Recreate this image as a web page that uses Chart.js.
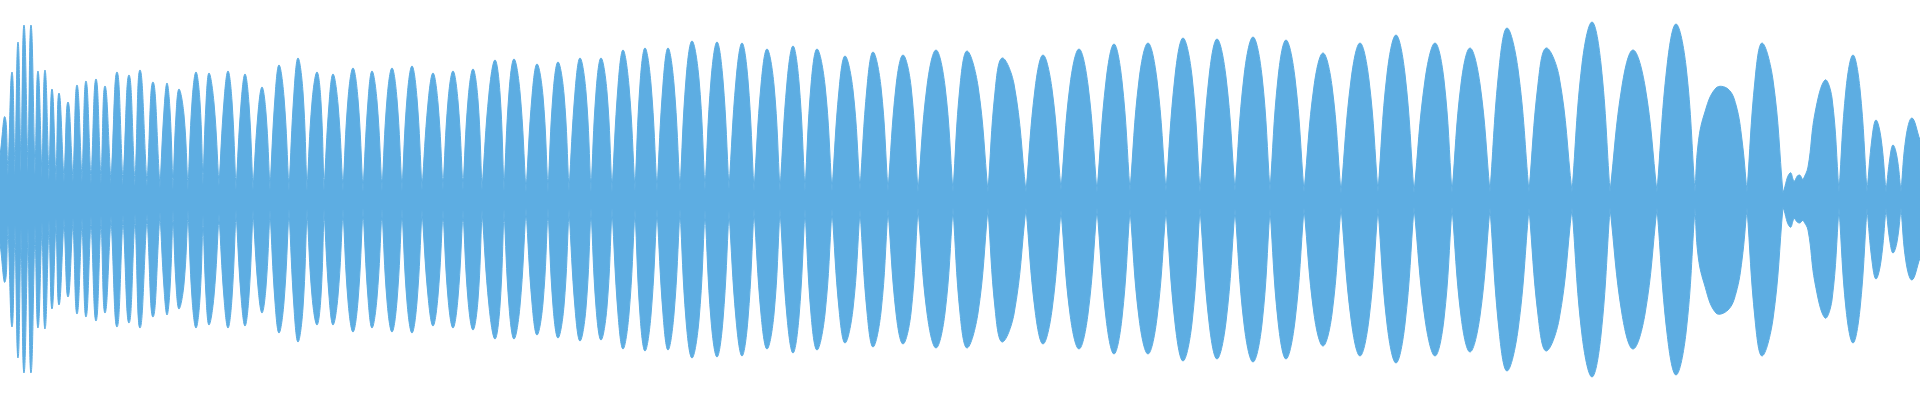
<!DOCTYPE html>
<html>
<head>
<meta charset="utf-8">
<script src="https://cdn.jsdelivr.net/npm/chart.js@4.4.1/dist/chart.umd.min.js"></script>
<style>
  html, body { margin: 0; padding: 0; background: #ffffff; }
  #wrap { width: 1920px; height: 400px; }
</style>
</head>
<body>
<div id="wrap"><canvas id="wave" width="1920" height="400"></canvas></div>
<script>
// envelope of the waveform, amplitude in % of full scale
const envX = [
  0, 5, 8, 12, 15, 18, 21, 24, 28, 31, 35, 38, 42, 45, 49, 52, 56, 59, 64,
  68, 73, 77, 82, 86, 91, 96, 101, 105, 111, 117, 123, 129, 135, 140, 147, 153, 160,
  164, 167, 170, 173,  176, 179, 184, 188,  192, 196, 200, 203,  206, 209, 214, 219,
  224, 228, 232, 236,  241, 245, 249, 253,  258, 262, 266, 270,  275, 279, 284, 289,
  294, 298, 303, 307,  312, 317, 321, 324,  329, 333, 338, 343,  348, 353, 358, 363,
  368, 372, 377, 382,  387, 392, 397, 402,  407, 412, 417, 422,  428, 433, 438, 443,
  448, 453, 458, 463,  468, 473, 478, 482,  489, 495, 500, 504,  509, 514, 520, 526,
  532, 537, 543, 548,  553, 558, 564, 569,  575, 580, 586, 591,  596, 601, 607, 612,
  618, 623, 629, 635,  640, 645, 651, 657,  663, 668, 674, 680,  686, 692, 699, 705,
  711, 717, 723, 729,  736, 742, 748, 754,  761, 767, 774, 780,  787, 793, 799, 805,
  811, 817, 825, 832,  839, 845, 853, 860,  867, 873, 881, 888,  896, 903, 911, 918,
  927, 936, 945, 953,  960, 967, 978, 988,  995, 1002, 1014, 1026,  1035, 1043, 1052, 1061,
  1070, 1079, 1088, 1097,  1106, 1114, 1122, 1130,  1139, 1148, 1157, 1166,  1175, 1183, 1192, 1200,
  1209, 1217, 1226, 1235,  1244, 1253, 1262, 1270,  1278, 1286, 1295, 1304,  1314, 1323, 1332, 1341,
  1351, 1360, 1369, 1378,  1387, 1396, 1405, 1414,  1425, 1435, 1444, 1452,  1461, 1470, 1480, 1490,
  1499, 1507, 1518, 1529,  1538, 1546, 1559, 1572,  1582, 1592, 1601, 1610,  1622, 1633, 1645, 1657,
  1667, 1676, 1686, 1695,
  1698, 1704, 1716, 1728, 1736, 1742, 1747,
  1755, 1762, 1773, 1783,  1790, 1794,  1799, 1803,
  1808, 1815, 1825, 1832, 1839,
  1846, 1853, 1860, 1867,  1872, 1876, 1881, 1886,  1890, 1893, 1897, 1901,  1906, 1912, 1920
];
const envHigh = [
  22, 41.5, 12.5, 64, 12.5, 79, 14, 87.5, 14, 87.5, 12.5, 64.5, 11, 65, 10, 55.5, 9, 53.5, 9,
  49, 9, 57.5, 9, 59.5, 8, 60.5, 8, 57, 8, 64, 7.5, 62.5, 7, 65, 7, 59, 6,
  45, 58.5, 45, 5,  42.5, 55.5, 42.5, 5,  49, 64, 49, 7.5,  48.5, 63.5, 48.5, 7,
  49.5, 64.5, 49.5, 5,  48, 63, 48, 5,  43.5, 56.5, 43.5, 5,  51.5, 67.5, 51.5, 4.5,
  54, 71, 54, 4.5,  49, 64, 49, 4.5,  48, 63, 48, 4.5,  50.5, 66, 50.5, 4,
  49.5, 64.5, 49.5, 4.5,  50.5, 66, 50.5, 4.5,  51, 67, 51, 5,  48.5, 63.5, 48.5, 5,
  49.5, 64.5, 49.5, 5,  50, 65.5, 50, 5,  53.5, 70, 53.5, 4.5,  54, 70.5, 54, 4,
  52, 68, 52, 4,  53, 69, 53, 4.5,  54, 71, 54, 4,  54, 71, 54, 4,
  57, 75, 57, 4.5,  58, 76, 58, 4.5,  58, 76, 58, 4.5,  60.5, 79.5, 60.5, 5,
  60, 79, 60, 5.5,  60, 78.5, 60, 4.5,  57.5, 75.5, 57.5, 4.5,  59, 77, 59, 4.5,
  57.5, 75.5, 57.5, 4.5,  55, 72, 55, 5,  56.5, 74, 56.5, 4.5,  57, 72.5, 57, 4,
  57, 75, 57, 4,  57, 74.5, 57, 4,  54, 71, 58, 4,  55.5, 72.5, 55.5, 5,
  57.5, 75.5, 57.5, 4,  59.5, 78, 59.5, 4.5,  60, 78.5, 60, 4.5,  62, 81, 62, 4,
  61.5, 80.5, 61.5, 4.5,  62, 81.5, 62, 4.5,  61, 80, 61, 4,  57, 73.5, 57, 3.5,
  60, 78.5, 60, 4,  63, 82.5, 63, 3.5,  60, 78.5, 60, 3.5,  58, 76, 58, 4,
  65.5, 86, 65.5, 4,  58, 76, 62, 4,  68, 89, 68, 4,  57, 75, 57, 4,
  67, 88, 67, 4,
  27.5, 42.5, 56, 55.5, 47.5, 30, 4,
  60, 78.5, 60, 3.5,  13.5, 9,  12.5, 10,
  16.5, 43.5, 60, 51, 4,
  55.5, 72.5, 55.5, 4,  31, 40, 31, 4,  21.5, 27.5, 21.5, 4,  31.5, 41, 30
];
const envLow = [
  21.5, 41, 12.5, 63.5, 12.5, 79, 14, 86.5, 14, 86.5, 12.5, 64, 11, 64.5, 10, 54.5, 9, 52.5, 9,
  48.5, 9, 57, 9, 58.5, 8, 60.5, 8, 56.5, 8, 63.5, 7.5, 61.5, 7, 64, 7, 58.5, 6,
  44, 57.5, 44.5, 5,  42, 54.5, 42, 5,  49, 64, 49, 7.5,  48, 62.5, 48, 7,
  49, 64, 49, 5,  48, 63, 48, 5,  43.5, 56.5, 43.5, 5,  51, 66.5, 51, 4.5,
  54, 71, 54, 4.5,  48, 62.5, 48, 4.5,  48, 62.5, 48, 4.5,  50.5, 66, 50.5, 4,
  49, 64, 49, 4.5,  50.5, 66, 50.5, 4.5,  51, 66.5, 51, 5,  48, 63, 48, 5,
  49, 64, 49, 5,  50, 65, 50, 5,  53, 69.5, 53, 4.5,  53, 69.5, 53, 4,
  51.5, 67.5, 51.5, 4,  53, 69, 53, 4.5,  54, 70.5, 54, 4,  53.5, 70, 53.5, 4,
  57, 74.5, 57, 4.5,  57.5, 75.5, 57.5, 4.5,  57, 75, 57, 4.5,  60, 79, 60, 5,
  60, 78.5, 60, 5.5,  59.5, 78, 59.5, 4.5,  57, 74.5, 57, 4.5,  58.5, 76.5, 58.5, 4.5,
  57, 75, 57, 4.5,  54.5, 71.5, 54.5, 5,  56, 73.5, 56, 4.5,  56.5, 72, 56.5, 4,
  56.5, 74, 56.5, 4,  56.5, 74, 56.5, 4,  54, 71, 57, 4,  55, 72, 55, 5,
  57, 74.5, 57, 4,  59, 77, 59, 4.5,  59, 77, 59, 4.5,  61.5, 80.5, 61.5, 4,
  61, 79.5, 61, 4.5,  62, 81, 62, 4.5,  60.5, 79.5, 60.5, 4,  57, 73, 57, 3.5,
  59.5, 78, 59.5, 4,  62, 81.5, 62, 3.5,  59.5, 78, 59.5, 3.5,  58, 76, 58, 4,
  65, 85.5, 65, 4,  57.5, 75.5, 60, 4,  67.5, 88.5, 67.5, 4,  57, 74.5, 57, 4,
  66.5, 87.5, 66.5, 4,
  27.5, 41.5, 56.5, 55, 46.5, 30, 4,
  59.5, 78, 59.5, 3.5,  13.5, 9,  11.5, 10,
  15, 41.5, 59, 50, 4,
  54.5, 71.5, 54.5, 4,  30.5, 39.5, 30.5, 4,  21, 26.5, 21, 4,  31, 40, 29
];
// positions where one lobe pinches off into the next
const waistX = [
  0, 8, 15, 21, 28, 35, 42, 49, 56, 64, 73, 82, 91, 101, 111, 123, 135, 147, 160,
  173, 188, 203, 219, 236, 253, 270, 289, 307, 324, 343, 363, 382, 402, 422, 443, 463,
  482, 504, 526, 548, 569, 591, 612, 635, 657, 680, 705, 729, 754, 780, 805, 832, 860,
  888, 918, 953, 988, 1026, 1061, 1097, 1130, 1166, 1200, 1235, 1270, 1304, 1341, 1378,
  1414, 1452, 1490, 1529, 1572, 1610, 1657, 1695, 1747, 1783, 1794, 1803, 1839, 1867,
  1886, 1901, 1920
];

const waveColor = "#5dade2";

if (envX.length !== envHigh.length || envX.length !== envLow.length) {
  console.error("envelope arrays differ in length", envX.length, envHigh.length, envLow.length);
}

// cut the envelope into lobes so every waist stays pointed
const lobes = [];
let current = [];
envX.forEach((x, i) => {
  current.push(i);
  if (waistX.includes(x) && current.length > 1) {
    lobes.push(current);
    current = [i];
  }
});

const datasets = [];
lobes.forEach((idx) => {
  const tension = idx.length === 3 ? 0.5 : 0.4;
  datasets.push({
    data: idx.map((i) => ({ x: envX[i], y: envHigh[i] })),
    fill: "origin",
    tension: tension,
  });
  datasets.push({
    data: idx.map((i) => ({ x: envX[i], y: -envLow[i] })),
    fill: "origin",
    tension: tension,
  });
});

new Chart(document.getElementById("wave").getContext("2d"), {
  type: "line",
  data: { datasets: datasets },
  options: {
    responsive: false,
    animation: false,
    layout: { padding: 0 },
    elements: {
      point: { radius: 0, hoverRadius: 0 },
      line: {
        borderWidth: 1,
        borderColor: waveColor,
        backgroundColor: waveColor,
      },
    },
    scales: {
      x: { type: "linear", min: 0, max: 1920, display: false },
      y: { min: -100, max: 100, display: false },
    },
    plugins: {
      legend: { display: false },
      tooltip: { enabled: false },
    },
  },
});
</script>
</body>
</html>
